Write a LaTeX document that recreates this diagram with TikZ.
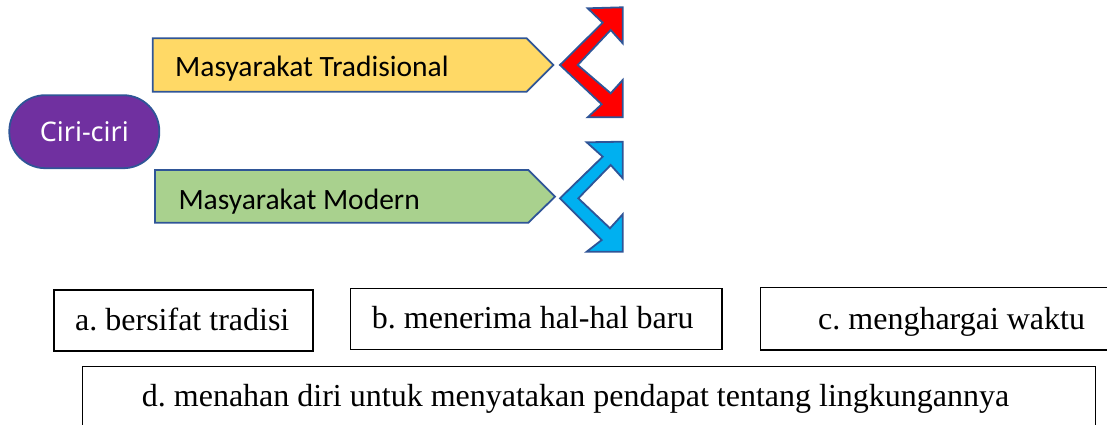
\documentclass[tikz,border=0pt]{standalone}
\usepackage{fontspec}
\setmainfont{Liberation Serif}
\newfontfamily\calib{Carlito}
\newfontfamily\notos{Noto Sans}
\frenchspacing
\definecolor{bordblue}{RGB}{47,85,151}
\definecolor{purp}{RGB}{112,48,160}
\definecolor{yel}{RGB}{255,217,102}
\definecolor{grn}{RGB}{169,209,142}
\definecolor{cyanb}{RGB}{0,176,240}
\tikzset{
  pent/.style={draw=bordblue, line width=1.8pt, line join=miter},
  twoarrow/.style={draw=bordblue, line width=1.8pt, line join=miter},
  ansbox/.style={draw=black, line width=1.3pt},
  anstext/.style={anchor=base west, inner sep=0pt, font=\fontsize{32}{36}\selectfont},
  penttext/.style={anchor=base west, inner sep=0pt, font=\calib\fontsize{29.5}{33}\selectfont},
}
\begin{document}
\begin{tikzpicture}[x=1pt,y=-1pt]
\useasboundingbox (0,0) rectangle (1107,425);
\clip (0,0) rectangle (1107,425);
% Ciri-ciri
\node[draw=bordblue, line width=1.8pt, fill=purp, rounded corners=36pt,
      minimum width=150pt, minimum height=73pt, inner sep=0pt,
      text=white, font=\notos\fontsize{27}{30}\selectfont] (ciri) at (84.3,131.7) {Ciri-ciri};
% Tradisional pentagon
\path[pent, fill=yel] (152.7,38.3) -- (526.7,38.3) -- (553.3,65) -- (526.7,91.7) -- (152.7,91.7) -- cycle;
\node[penttext] (trad) at (175,76.7) {Masyarakat Tradisional};
% Modern pentagon
\path[pent, fill=grn] (155,170) -- (528.3,170) -- (555,196.7) -- (528.3,222.7) -- (155,222.7) -- cycle;
\node[penttext] (mod) at (178.3,209.3) {Masyarakat Modern};
% red double arrow
\path[twoarrow, fill=red] (560,65) -- (602.7,22.7) -- (587.7,8.3) -- (622.7,7.3) -- (622.7,43.3) -- (610.7,30)
  -- (577.7,65) -- (610.7,93.3) -- (622.7,80) -- (622.7,117.3) -- (587.7,117.3) -- (601.7,104.3) -- cycle;
% blue double arrow
\path[twoarrow, fill=cyanb] (560,198.3) -- (602.7,156.7) -- (586.7,142.3) -- (622.7,141.7) -- (622.7,178.3) -- (610.7,165)
  -- (578.3,198.3) -- (610,228.3) -- (622.7,214.3) -- (622.7,251.7) -- (586.7,251.7) -- (601.7,240) -- cycle;
% answer boxes
\draw[ansbox] (54,290) rectangle (313,351);
\node[anstext] (a) at (75,330.7) {a. bersifat tradisi};
\draw[ansbox] (350.7,288.3) rectangle (722,349.3);
\node[anstext] (b) at (371.7,328.5) {b. menerima hal-hal baru};
\draw[ansbox] (1110,287.3) -- (760.7,287.3) -- (760.7,350) -- (1110,350);
\node[anstext] (c) at (818,329) {c. menghargai waktu};
\draw[ansbox] (82.7,430) -- (82.7,366.7) -- (1095.7,366.7) -- (1095.7,430);
\node[anstext] (d) at (141.7,406.7) {d. menahan diri untuk menyatakan pendapat tentang lingkungannya};
\end{tikzpicture}
\end{document}
